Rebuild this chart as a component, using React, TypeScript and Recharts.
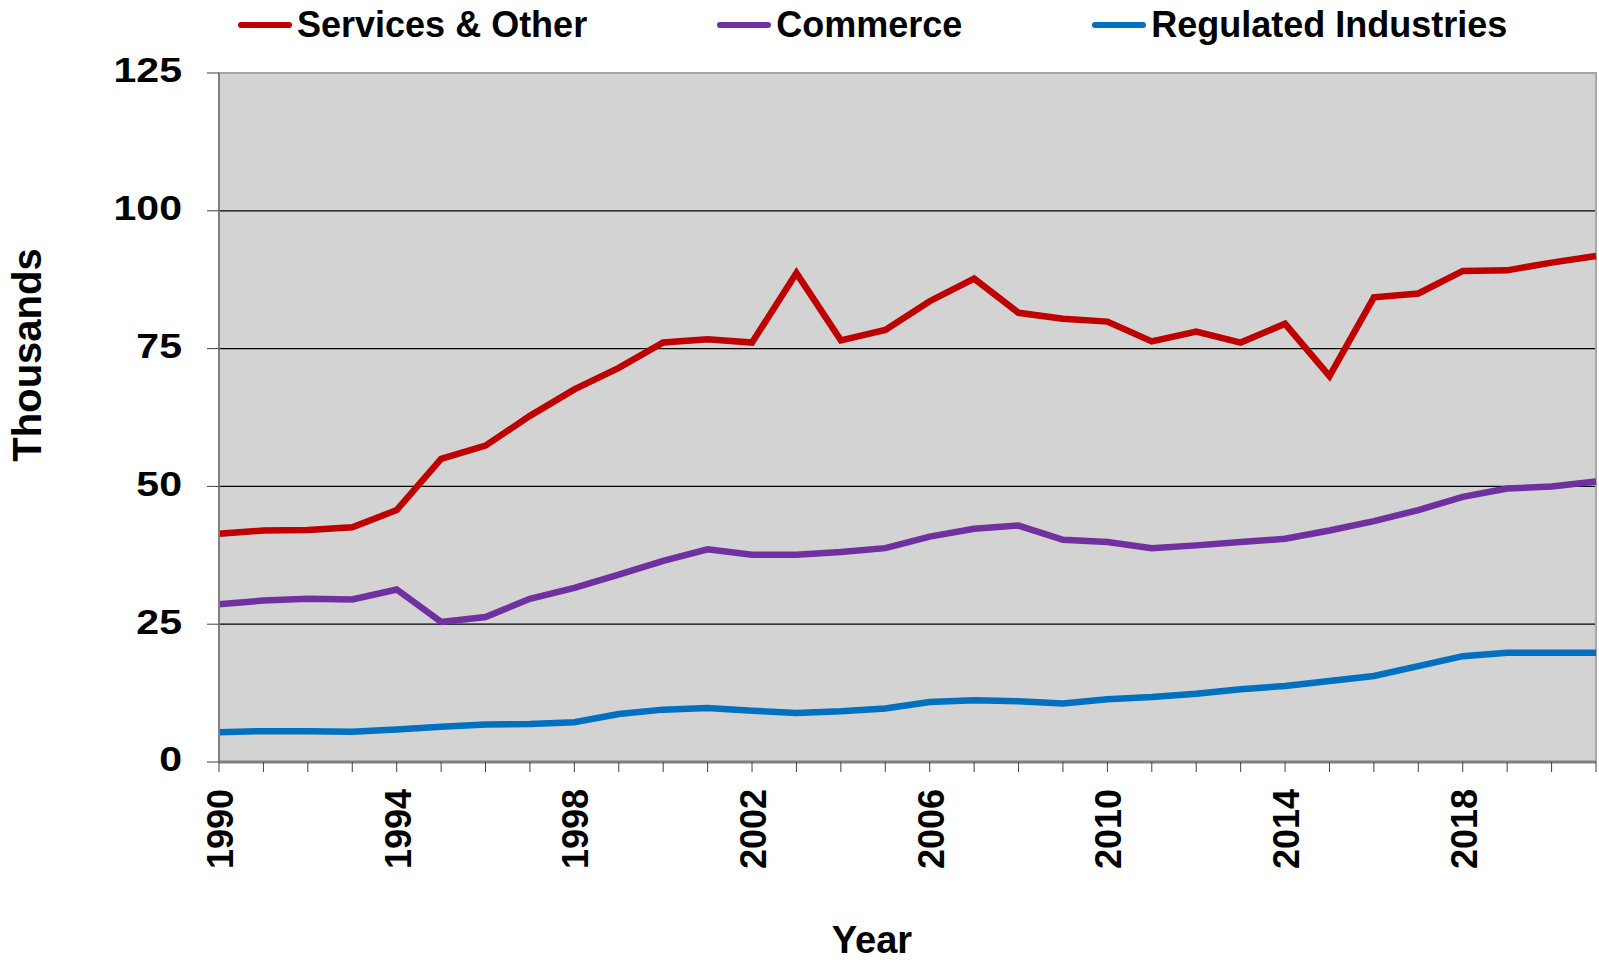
import { CartesianGrid, Line, LineChart, ReferenceArea, XAxis, YAxis } from 'recharts'

const YEARS = [
  1990, 1991, 1992, 1993, 1994, 1995, 1996, 1997, 1998, 1999, 2000, 2001, 2002, 2003, 2004, 2005,
  2006, 2007, 2008, 2009, 2010, 2011, 2012, 2013, 2014, 2015, 2016, 2017, 2018, 2019, 2020, 2021,
]

const SERVICES = [
  41.4, 42.0, 42.1, 42.6, 45.7, 55.0, 57.4, 62.8, 67.6, 71.5, 76.1, 76.7, 76.1, 88.7, 76.5, 78.4,
  83.6, 87.7, 81.5, 80.4, 79.9, 76.3, 78.1, 76.1, 79.5, 70.0, 84.3, 85.0, 89.1, 89.2, 90.6, 91.8,
]

const COMMERCE = [
  28.6, 29.3, 29.6, 29.5, 31.3, 25.4, 26.3, 29.6, 31.6, 34.0, 36.5, 38.6, 37.6, 37.6, 38.1, 38.8,
  40.9, 42.3, 42.9, 40.3, 39.9, 38.8, 39.3, 39.9, 40.5, 42.0, 43.7, 45.7, 48.1, 49.6, 50.0, 50.9,
]

const REGULATED = [
  5.4, 5.6, 5.6, 5.5, 5.9, 6.4, 6.8, 6.9, 7.2, 8.7, 9.5, 9.8, 9.3, 8.9, 9.2, 9.7,
  10.9, 11.2, 11.0, 10.6, 11.4, 11.8, 12.4, 13.2, 13.8, 14.7, 15.6, 17.4, 19.2, 19.8, 19.8, 19.8,
]

const Y_TICKS = [0, 25, 50, 75, 100, 125]
const LABELED_YEARS = [1990, 1994, 1998, 2002, 2006, 2010, 2014, 2018]

const SERIES = [
  { key: 'services', name: 'Services & Other', color: '#c00000' },
  { key: 'commerce', name: 'Commerce', color: '#7030a0' },
  { key: 'regulated', name: 'Regulated Industries', color: '#0070c0' },
]

const data = YEARS.map((year, i) => ({
  year,
  services: SERVICES[i],
  commerce: COMMERCE[i],
  regulated: REGULATED[i],
}))

const FONT = '"Liberation Sans", Arial, sans-serif'

function YearTick({ x, y, payload }: { x: number; y: number; payload: { value: number } }) {
  if (!LABELED_YEARS.includes(payload.value)) return null
  // rotated, reading bottom-to-top, top end just under the tick marks
  return (
    <g transform={`translate(${x},${y + 15})`}>
      <text
        transform="rotate(-90)"
        textAnchor="end"
        dy="0.39em"
        fontFamily={FONT}
        fontWeight="bold"
        fontSize={36}
        fill="#000"
      >
        {payload.value}
      </text>
    </g>
  )
}

// the value labels are drawn a bit wider than plain Arial bold
function ValueTick({ x, y, payload }: { x: number; y: number; payload: { value: number } }) {
  return (
    <g transform={`translate(${x - 23},${y})`}>
      <text
        transform="scale(1.14,1)"
        textAnchor="end"
        dy="0.26em"
        fontFamily={FONT}
        fontWeight="bold"
        fontSize={36}
        fill="#000"
      >
        {payload.value}
      </text>
    </g>
  )
}

function Legend() {
  return (
    <div
      style={{
        position: 'absolute',
        left: 238,
        top: 7,
        display: 'flex',
        gap: 130,
        fontFamily: FONT,
        fontWeight: 'bold',
        fontSize: 36,
        lineHeight: '36px',
        whiteSpace: 'nowrap',
      }}
    >
      {SERIES.map((s) => (
        <div key={s.key} style={{ display: 'flex', alignItems: 'center' }}>
          <span
            style={{
              display: 'inline-block',
              width: 54,
              height: 6,
              borderRadius: 3,
              background: s.color,
              marginRight: 5,
            }}
          />
          <span>{s.name}</span>
        </div>
      ))}
    </div>
  )
}

export default function App() {
  return (
    <div style={{ position: 'absolute', left: 0, top: 0, width: 1599, height: 962, background: '#fff' }}>
      <Legend />
      <LineChart
        width={1599}
        height={962}
        data={data}
        margin={{ top: 73, right: 3, left: 0, bottom: 0 }}
      >
        <CartesianGrid vertical={false} stroke="#000" strokeWidth={1.2} fill="#d3d3d3" />
        <ReferenceArea
          x1={1990}
          x2={2021}
          y1={0}
          y2={125}
          fill="none"
          stroke="#a6a6a6"
          strokeWidth={2}
        />
        <XAxis
          dataKey="year"
          type="category"
          interval={0}
          tickSize={10}
          tickLine={{ stroke: '#404040', strokeWidth: 1 }}
          axisLine={{ stroke: '#808080', strokeWidth: 3 }}
          tick={YearTick}
          height={200}
          label={{
            content: () => (
              <text
                x={872}
                y={953}
                textAnchor="middle"
                fontFamily={FONT}
                fontWeight="bold"
                fontSize={38}
                fill="#000"
              >
                Year
              </text>
            ),
          }}
        />
        <YAxis
          type="number"
          domain={[0, 125]}
          ticks={Y_TICKS}
          width={219}
          tickSize={12}
          tickLine={{ stroke: '#404040', strokeWidth: 1 }}
          axisLine={{ stroke: '#808080', strokeWidth: 2 }}
          tick={ValueTick}
          label={{
            content: () => (
              <text
                transform="translate(41,355) rotate(-90)"
                textAnchor="middle"
                fontFamily={FONT}
                fontWeight="bold"
                fontSize={40}
                fill="#000"
              >
                Thousands
              </text>
            ),
          }}
        />
        {SERIES.map((s) => (
          <Line
            key={s.key}
            type="linear"
            dataKey={s.key}
            name={s.name}
            stroke={s.color}
            strokeWidth={6.5}
            dot={false}
            activeDot={false}
            isAnimationActive={false}
          />
        ))}
      </LineChart>
    </div>
  )
}
